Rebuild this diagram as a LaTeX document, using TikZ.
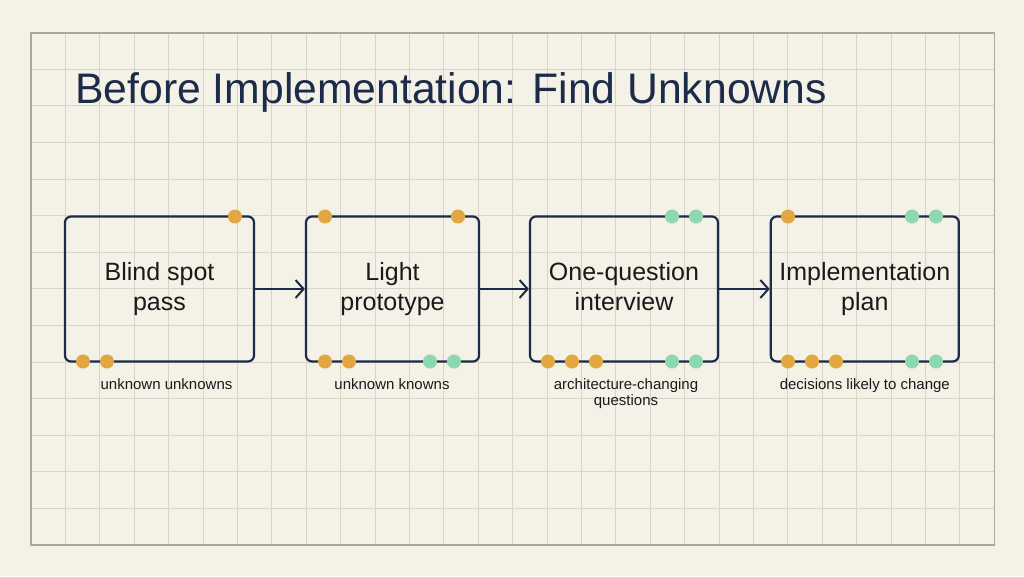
\documentclass[tikz,border=0pt]{standalone}
\usepackage{fontspec}
\setmainfont{Liberation Sans}
\usepackage{xcolor}
\usepackage{tikz}
\usetikzlibrary{arrows.meta}

\definecolor{paper}{HTML}{F4F1E6}
\definecolor{gridc}{HTML}{D8D5C8}
\definecolor{framec}{HTML}{A9A89C}
\definecolor{navy}{HTML}{1C2B4A}
\definecolor{inkc}{HTML}{1A1A1A}
\definecolor{dotorange}{HTML}{E2A743}
\definecolor{dotgreen}{HTML}{8ED8B0}

\begin{document}
\begin{tikzpicture}[x=1pt, y=-1pt,
    gridline/.style={draw=gridc, line width=0.9pt},
    stage/.style={draw=navy, line width=2.2pt, rounded corners=6pt, minimum height=145pt,
        text=inkc, align=center, font=\fontsize{25}{30}\selectfont},
    note/.style={text=inkc, align=center, font=\fontsize{15}{16.5}\selectfont, anchor=north, inner sep=0pt},
    flow/.style={draw=navy, line width=2pt, -{Straight Barb[length=8pt, width=18pt, line width=2pt]}},
    odot/.style={fill=dotorange},
    gdot/.style={fill=dotgreen}]
     \useasboundingbox (0,0) rectangle (1024,576);
     \fill[paper] (0,0) rectangle (1024,576);

     % grid
     \foreach \i in {1,...,27}
         \draw[gridline] ({31+\i*34.40},32.7) -- ({31+\i*34.40},545);
     \foreach \j in {1,...,13}
         \draw[gridline] (31,{32.7+\j*36.59}) -- (994.3,{32.7+\j*36.59});
     \draw[framec, line width=1.6pt] (31,32.7) rectangle (994.3,545);

     \node[anchor=base west, text=navy, font=\fontsize{42.7}{48}\selectfont, inner sep=0pt] (title) at (75,103) {Before Implementation: Find Unknowns};

     \node[stage, minimum width=189pt] (blind) at (159.5,289) {Blind spot\strut\\pass\strut};
     \node[stage, minimum width=173pt] (proto) at (392.5,289) {Light\strut\\prototype\strut};
     \node[stage, minimum width=188pt] (interview) at (624,289) {One-question\strut\\interview\strut};
     \node[stage, minimum width=188pt] (plan) at (864.8,289) {Implementation\strut\\plan\strut};

     \draw[flow] (blind) -- (proto);
     \draw[flow] (proto) -- (interview);
     \draw[flow] (interview) -- (plan);

     % markers on the box edges
     \foreach \x in {235, 325, 458, 788}
         \fill[odot] (\x,216.5) circle (7pt);
     \foreach \x in {672, 696, 912, 936}
         \fill[gdot] (\x,216.5) circle (7pt);
     \foreach \x in {83, 107, 325, 349, 548, 572, 596, 788, 812, 836}
         \fill[odot] (\x,361.5) circle (7pt);
     \foreach \x in {430, 454, 672, 696, 912, 936}
         \fill[gdot] (\x,361.5) circle (7pt);

     \node[note] (blindnote) at (166.5,378) {unknown unknowns};
     \node[note] (protonote) at (392,378) {unknown knowns};
     \node[note] (interviewnote) at (626,378) {architecture-changing\\questions};
     \node[note] (plannote) at (864.8,378) {decisions likely to change};
 \end{tikzpicture}
\end{document}
